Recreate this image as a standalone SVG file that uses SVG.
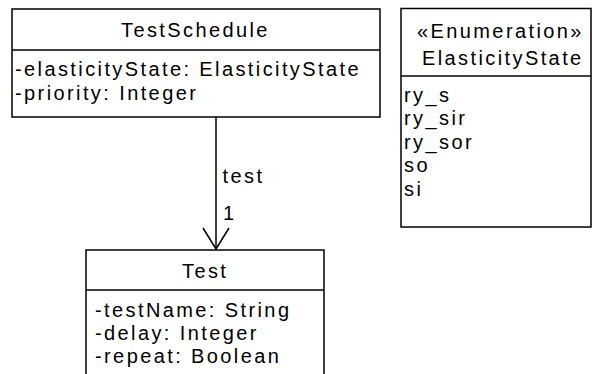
<svg xmlns="http://www.w3.org/2000/svg" width="592" height="374" viewBox="0 0 592 374">
<style>
text{font-family:"Liberation Sans",Arial,sans-serif;font-size:20px;letter-spacing:2.4px;fill:#000}
.box{fill:#fff;stroke:#000;stroke-width:1.5}
.ln{stroke:#000;stroke-width:1.5;fill:none}
</style>
<rect width="592" height="374" fill="#fff"/>
<g id="TestSchedule">
<rect class="box" x="12" y="9" width="368" height="108"/>
<line class="ln" x1="12" y1="50" x2="380" y2="50"/>
<text x="121" y="37">TestSchedule</text>
<text x="15" y="76">-elasticityState: ElasticityState</text>
<text x="15" y="99.5">-priority: Integer</text>
</g>
<g id="ElasticityState">
<rect class="box" x="401" y="8.5" width="190" height="218.5"/>
<line class="ln" x1="401" y1="76" x2="591" y2="76"/>
<text x="417" y="38">«Enumeration»</text>
<text x="422" y="65">ElasticityState</text>
<text x="404" y="101.5">ry_s</text>
<text x="404" y="125">ry_sir</text>
<text x="404" y="148.5">ry_sor</text>
<text x="404" y="172">so</text>
<text x="404" y="195.5">si</text>
</g>
<g id="Test">
<rect class="box" x="86" y="250" width="238" height="140"/>
<line class="ln" x1="86" y1="290" x2="324" y2="290"/>
<text x="182" y="278">Test</text>
<text x="95" y="316.5">-testName: String</text>
<text x="95" y="340">-delay: Integer</text>
<text x="95" y="363">-repeat: Boolean</text>
</g>
<g id="connectors">
<line class="ln" x1="216" y1="117" x2="216" y2="249"/>
<polyline class="ln" points="203,228 216,249 229,228"/>
<text x="222.5" y="183">test</text>
<text x="223" y="220">1</text>
</g>
</svg>
